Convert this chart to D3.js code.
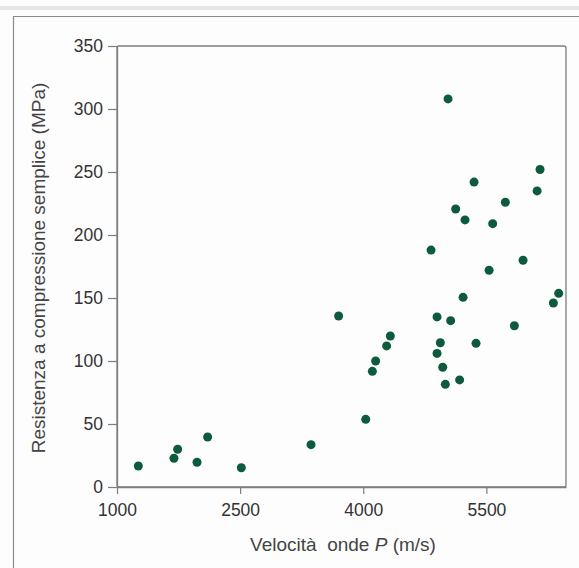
<!DOCTYPE html>
<html>
<head>
    <meta charset="utf-8">
    <script src="https://d3js.org/d3.v7.min.js"></script>
    <style>
        body { margin: 0; background: #fdfdfd; }
        text { font-family: "Liberation Sans", Arial, sans-serif; }
    </style>
</head>
<body>
    <script>
        // velocita onde P (m/s)
        var velocita = [1260, 1694, 1739, 1975, 2104, 2515, 3364, 4030,
                        3700, 4330, 4285, 4151, 4111,
                        5033, 6154, 5350, 6118, 5731, 5126, 5240, 5577, 4826, 5947, 5533,
                        6381, 6316, 5216, 4899, 5065, 5841, 4939, 5374, 4899, 4968, 5174, 5000];
        // resistenza a compressione (MPa)
        var resistenza = [16.7, 22.8, 30, 19.6, 39.7, 15.3, 33.6, 53.7,
                          135.7, 119.8, 112, 100, 91.8,
                          308, 252, 242, 235, 226, 220.6, 212, 209, 188, 180, 172,
                          153.7, 146, 150.5, 135, 132, 128, 114.5, 114, 106, 95, 85, 81.5];
        var xTicks = [1000, 2500, 4000, 5500];
        var yTicks = [0, 50, 100, 150, 200, 250, 300, 350];

        var W = 579, H = 568;
        var plotL = 117, plotR = 566, plotT = 46, plotB = 487;

        var svg = d3.select("body").append("svg")
            .attr("width", W)
            .attr("height", H);

        // outer frame from the page
        svg.append("rect").attr("x", 0).attr("y", 6).attr("width", W).attr("height", 4)
            .style("fill", "#e6e6e6");
        svg.append("path").attr("d", "M13.5," + H + "V16.5H" + W)
            .style("fill", "none").style("stroke", "#8a8a8a").style("stroke-width", 1.2);

        var x = d3.scaleLinear().domain([1000, 6470]).range([plotL, plotR]);
        var y = d3.scaleLinear().domain([0, 350]).range([plotB, plotT]);

        svg.append("rect")
            .attr("x", plotL).attr("y", plotT)
            .attr("width", plotR - plotL).attr("height", plotB - plotT)
            .attr("rx", 2)
            .style("fill", "none").style("stroke", "#7a7f7c").style("stroke-width", 1.3);

        var xAxis = svg.append("g")
            .attr("transform", "translate(0," + plotB + ")")
            .call(d3.axisBottom(x).tickValues(xTicks).tickFormat(d3.format("d"))
                .tickSize(7).tickPadding(10).tickSizeOuter(0));

        var yAxis = svg.append("g")
            .attr("transform", "translate(" + plotL + ",0)")
            .call(d3.axisLeft(y).tickValues(yTicks).tickFormat(d3.format("d"))
                .tickSize(9).tickPadding(5).tickSizeOuter(0));

        [xAxis, yAxis].forEach(function (g) {
            g.select(".domain").style("stroke", "#7a7f7c").style("stroke-width", 1.3);
            g.selectAll(".tick line").style("stroke", "#7a7f7c").style("stroke-width", 1.2);
            g.selectAll(".tick text")
                .style("font-family", "'Liberation Sans', Arial, sans-serif")
                .style("font-size", "17.5px")
                .style("fill", "#333");
        });

        svg.append("g").selectAll("circle")
            .data(velocita)
            .enter().append("circle")
            .attr("cx", function (d) { return x(d); })
            .attr("cy", function (d, i) { return y(resistenza[i]); })
            .attr("r", 4.5)
            .style("fill", "#0d5a3c");

        var xt = svg.append("text")
            .attr("x", 343).attr("y", 551)
            .attr("text-anchor", "middle")
            .style("font-size", "19px")
            .style("fill", "#444");
        xt.append("tspan").text("Velocità\u00a0 onde ");
        xt.append("tspan").style("font-style", "italic").text("P");
        xt.append("tspan").text(" (m/s)");

        svg.append("text")
            .attr("transform", "translate(45,268) rotate(-90)")
            .attr("text-anchor", "middle")
            .style("font-size", "19px")
            .style("fill", "#444")
            .text("Resistenza a compressione semplice (MPa)");
    </script>
</body>
</html>
